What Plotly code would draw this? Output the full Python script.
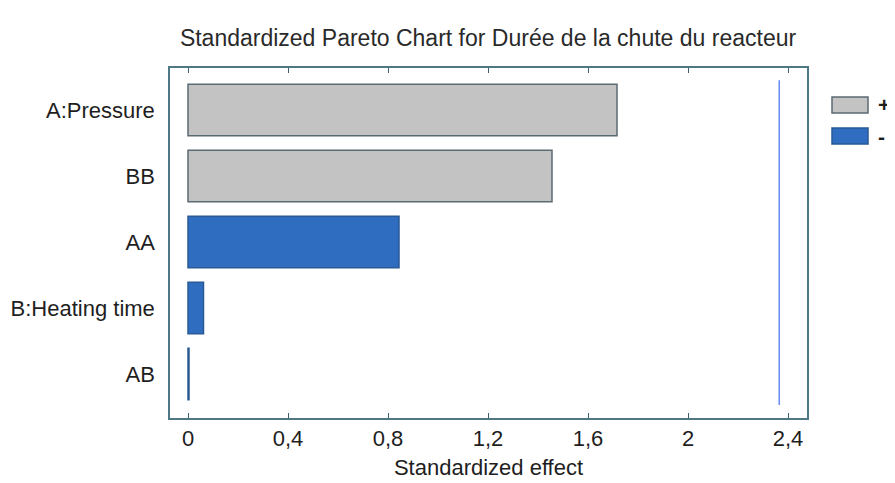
import plotly.graph_objects as go

categories = ["A:Pressure", "BB", "AA", "B:Heating time", "AB"]
effects = [1.716, 1.456, 0.844, 0.062, 0.004]
signs = ["+", "+", "-", "-", "-"]
critical_value = 2.365
x_ticks = [0, 0.4, 0.8, 1.2, 1.6, 2, 2.4]
x_tick_labels = ["0", "0,4", "0,8", "1,2", "1,6", "2", "2,4"]

n = len(categories)
ypos = [n - 1 - i for i in range(n)]

colors = {"+": "#c3c3c3", "-": "#2e6dc0"}
edge = {"+": "#5b6b73", "-": "#2a5a95"}

fig = go.Figure()
for s in ["+", "-"]:
    xs = [e for e, g in zip(effects, signs) if g == s]
    ys = [y for y, g in zip(ypos, signs) if g == s]
    fig.add_trace(go.Bar(
        x=xs, y=ys, orientation="h", name=s, width=0.78,
        marker=dict(color=colors[s], line=dict(color=edge[s], width=1.5)),
        showlegend=False,
    ))

fig.add_trace(go.Scatter(
    x=[critical_value, critical_value], y=[-0.47, n - 1 + 0.45],
    mode="lines", line=dict(color="#6f8ff0", width=1.6), showlegend=False,
))

font_family = "Liberation Sans, Arial, sans-serif"
txt = "#1e1e1e"

# page body has an 8px margin: compensate so plot area sits at x 170..807, y 68..418
W, H = 887, 475
fig.update_layout(
    width=W, height=H,
    margin=dict(l=162, r=W + 8 - 807, t=60, b=H + 8 - 418, autoexpand=False),
    paper_bgcolor="white", plot_bgcolor="white",
    barmode="overlay",
    font=dict(family=font_family, color=txt, size=22),
    title=dict(text="Standardized Pareto Chart for Durée de la chute du reacteur",
               x=(488 - 8) / W, xanchor="center", y=(H - 30) / H, yanchor="middle",
               font=dict(size=23, color="#2a2a2a", family=font_family)),
    xaxis=dict(range=[-0.072, 2.476], tickvals=x_ticks, ticktext=x_tick_labels,
               ticks="inside", ticklen=5, tickcolor="#3f5f6a", tickwidth=1.2,
               showgrid=False, zeroline=False, showline=True, linecolor="#4f7886",
               linewidth=1.5, mirror="ticks",
               title=dict(text="Standardized effect", standoff=9,
                          font=dict(size=22, color=txt)),
               tickfont=dict(size=22, color=txt)),
    yaxis=dict(range=[-0.667, n - 1 + 0.636], tickvals=ypos, ticktext=categories,
               showgrid=False, zeroline=False, showline=True, linecolor="#4f7886",
               linewidth=1.5, mirror=True, ticks="", ticklabelstandoff=9,
               tickfont=dict(size=22, color=txt)),
    showlegend=False,
)

# Legend drawn as boxes + text in paper space (relative to plot area 170..807 x, 68..418 y)
legend_items = ["+", "-"]
for i, s in enumerate(legend_items):
    y0 = 1 - (29 + 31 * i) / 350
    y1 = y0 - 16 / 350
    fig.add_shape(type="rect", xref="paper", yref="paper",
                  x0=(832 - 170) / 637, x1=(868 - 170) / 637, y0=y1, y1=y0,
                  fillcolor=colors[s], line=dict(color=edge[s], width=1.5))
    fig.add_annotation(xref="paper", yref="paper", x=(876 - 170) / 637,
                       y=(y0 + y1) / 2, text="<b>" + s + "</b>", showarrow=False,
                       xanchor="left", yanchor="middle",
                       font=dict(size=21, color=txt, family=font_family))

fig.write_html("out.html")
